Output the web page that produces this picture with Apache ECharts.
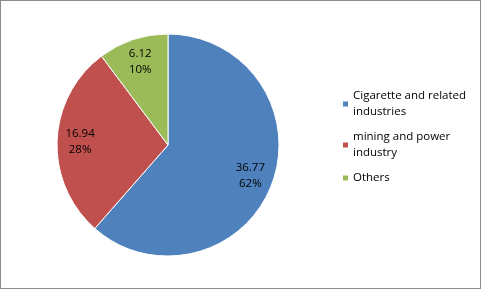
<!DOCTYPE html>
<html><head><meta charset="utf-8">
<script src="https://cdn.jsdelivr.net/npm/echarts@6/dist/echarts.min.js"></script>
<style>html,body{margin:0;padding:0;background:#fff}#c{width:479px;height:287px;border:1px solid #8c8c8c}</style>
</head><body><div id="c"></div>
<script>
const categories = ['Cigarette and related industries', 'mining and power industry', 'Others'];
const values = [36.77, 16.94, 6.12];
const colors = ['#4F81BD', '#C0504D', '#9BBB59'];

const chart = echarts.init(document.getElementById('c'));
const data = categories.map((n, i) => ({ name: n, value: values[i] }));
chart.setOption({
  animation: false,
  color: colors,
  legend: {
    orient: 'vertical', left: 340, top: 87, padding: 0, itemWidth: 7, itemHeight: 7, itemGap: 9, icon: 'rect',
    data: categories,
    textStyle: { fontFamily: 'Open Sans', fontSize: 11.5, color: '#000', width: 122, overflow: 'break', lineHeight: 16, padding: [0, 0, 0, -1] }
  },
  series: [
    { type: 'pie', center: [167, 144], radius: [0, 111], startAngle: 90, data: data, label: { show: false },
      itemStyle: { borderColor: '#fff', borderWidth: 1 }, silent: true },
    { type: 'pie', center: [167, 144], radius: [0, 170], startAngle: 90, data: data, silent: true,
      percentPrecision: 0,
      itemStyle: { color: 'rgba(0,0,0,0)' },
      label: { show: true, position: 'inside', formatter: '{c}\n{d}%', color: '#000', fontFamily: 'Open Sans', fontSize: 11.5, lineHeight: 16 } }
  ]
});
</script></body></html>
